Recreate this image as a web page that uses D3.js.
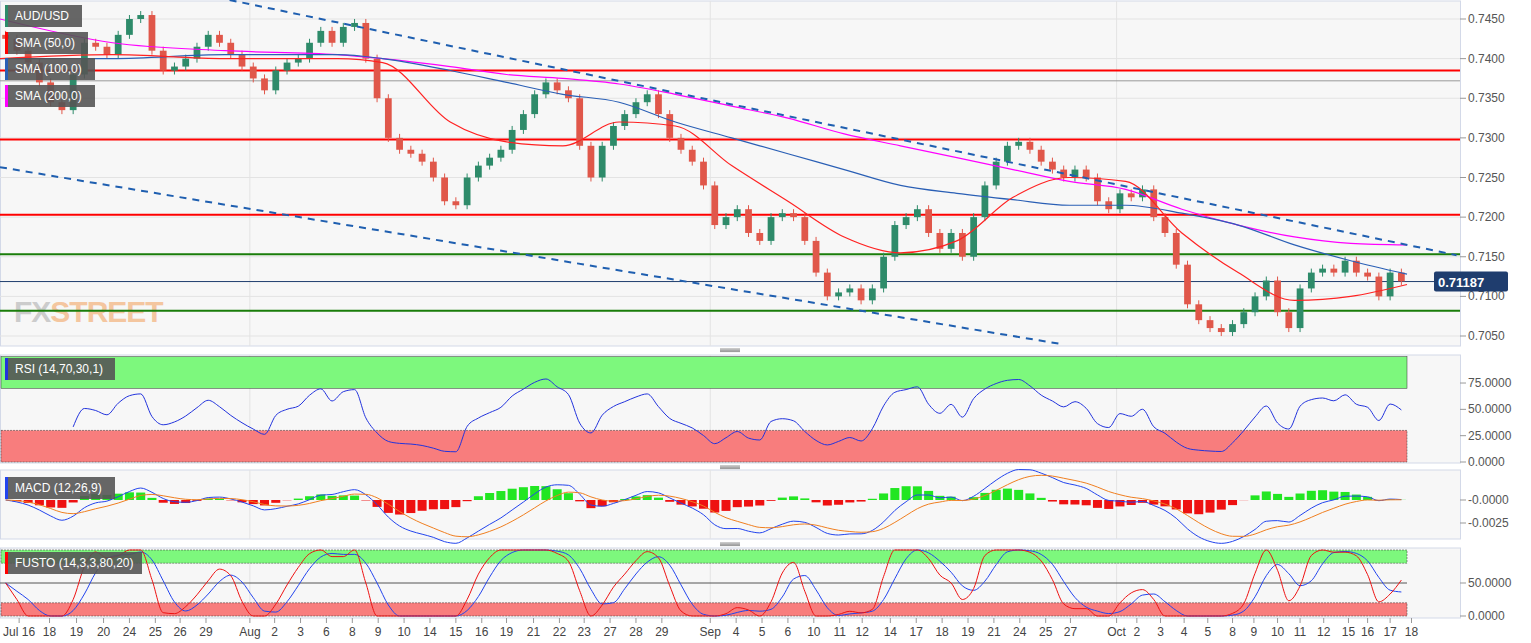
<!DOCTYPE html>
<html><head><meta charset="utf-8">
<script src="https://d3js.org/d3.v7.min.js"></script>
<style>body{margin:0;background:#fff;font-family:Arial,"Liberation Sans",sans-serif}</style>
</head><body><svg id="c" width="1531" height="643"></svg>
<script>
const closes=[0.7425,0.7410,0.7395,0.7370,0.7345,0.7335,0.7380,0.7420,0.7415,0.7405,
0.7430,0.7450,0.7455,0.7410,0.7385,0.7390,0.7400,0.7415,0.7430,0.7420,
0.7405,0.7390,0.7375,0.7360,0.7385,0.7395,0.7400,0.7420,0.7435,0.7420,
0.7440,0.7445,0.7400,0.7350,0.7300,0.7285,0.7280,0.7270,0.7250,0.7220,
0.7215,0.7250,0.7265,0.7275,0.7285,0.7310,0.7330,0.7355,0.7370,0.7360,
0.7350,0.7290,0.7250,0.7290,0.7315,0.7330,0.7345,0.7355,0.7330,0.7300,
0.7285,0.7270,0.7240,0.7190,0.7200,0.7210,0.7180,0.7170,0.7200,0.7205,
0.7200,0.7170,0.7130,0.7100,0.7105,0.7110,0.7095,0.7110,0.7150,0.7190,
0.7200,0.7210,0.7180,0.7160,0.7180,0.7150,0.7200,0.7240,0.7270,0.7290,
0.7295,0.7285,0.7270,0.7260,0.7250,0.7260,0.7250,0.7220,0.7210,0.7230,
0.7225,0.7235,0.7200,0.7180,0.7140,0.7090,0.7070,0.7060,0.7055,0.7065,
0.7080,0.7100,0.7120,0.7080,0.7060,0.7110,0.7130,0.7135,0.7130,0.7145,
0.7130,0.7125,0.7100,0.7130,0.7119];
const firstOpen=0.7430;
const smaIdx=[0,10,20,30,34,40,45,50,55,60,65,70,75,80,85,90,95,100,105,110,115,120,125];
const sma50=[0.7400,0.7405,0.7400,0.7400,0.7395,0.7320,0.7295,0.7290,0.7320,0.7315,0.7265,0.7220,0.7175,0.7155,0.7170,0.7225,0.7250,0.7245,0.7180,0.7130,0.7095,0.7100,0.7115];
const sma100=[0.7400,0.7400,0.7405,0.7405,0.7400,0.7385,0.7370,0.7355,0.7345,0.7320,0.7300,0.7280,0.7260,0.7240,0.7230,0.7222,0.7215,0.7215,0.7205,0.7190,0.7165,0.7145,0.7128];
const sma200=[0.7450,0.7420,0.7410,0.7405,0.7400,0.7390,0.7380,0.7375,0.7368,0.7355,0.7340,0.7325,0.7305,0.7290,0.7275,0.7260,0.7245,0.7235,0.7210,0.7190,0.7175,0.7167,0.7165];
const redLevels=[0.7385,0.7298,0.7203];
const grayLevels=[0.7372];
const greenLevels=[0.7153,0.7082];
const lastPrice=0.71187;
const trendTop=[[20.4,0.7474],[129.4,0.7152]];
const trendLow=[[0,0.7263],[94.2,0.7040]];
const priceTicks=[0.7050,0.7100,0.7150,0.7200,0.7250,0.7300,0.7350,0.7400,0.7450];
const rsiTicks=[0,25,50,75], macdTicks=[0,-0.0025], stoTicks=[0,50];
const dateLabels=["Jul 16","18","19","20","24","25","26","29","Aug","2","3","6","8","9","10","14","15","16","19","21","22","23","27","28","29","Sep","4","5","6","10","11","12","14","17","18","19","21","24","25","27","Oct","2","3","4","5","8","9","10","11","12","15","16","17","18"];
const dateIdx=[1.7,4.4,6.8,9.2,11.5,13.8,16.0,18.3,22.2,24.4,26.7,29.0,31.3,33.6,35.9,38.2,40.5,42.8,45.0,47.4,49.7,51.9,54.2,56.5,58.8,63.1,65.4,67.7,70.0,72.3,74.6,76.6,79.1,81.4,83.7,86.0,88.3,90.6,92.9,95.1,99.2,101.0,103.1,105.2,107.3,109.5,111.4,113.5,115.5,117.6,119.8,121.5,123.5,125.4];

const svg=d3.select("#c");
const W=1460;
const x=d3.scaleLinear([0,125],[0,1407]);
const y=d3.scaleLinear([0.7050,0.7450],[336,19]);
const yR=d3.scaleLinear([0,100],[462,356.7]);
const yM=d3.scaleLinear([-0.0025,0],[523,500]);
const yS=d3.scaleLinear([0,100],[616,550]);
const panels=[[1,346],[355,463],[470,539],[548,618]];
panels.forEach(p=>svg.append("rect").attr("x",0.5).attr("y",p[0]).attr("width",W).attr("height",p[1]-p[0]).attr("fill","#f7f7f7").attr("stroke","#d3d9e8"));
[350,467,544].forEach(v=>{for(let k=0;k<3;k++)svg.append("line").attr("x1",720).attr("x2",740).attr("y1",v-1+k*1.3).attr("y2",v-1+k*1.3).attr("stroke","#666").attr("stroke-width",0.7);});
const g=svg.append("g");
priceTicks.forEach(t=>g.append("line").attr("x1",0).attr("x2",W).attr("y1",y(t)).attr("y2",y(t)).attr("stroke","#e3e3e3"));
[22.2,63.1,99.2].forEach(t=>panels.forEach(p=>g.append("line").attr("x1",x(t)).attr("x2",x(t)).attr("y1",p[0]).attr("y2",p[1]).attr("stroke","#e3e3e3")));
const ax=(sc,ticks,fmt)=>{ticks.forEach(t=>{svg.append("line").attr("x1",W).attr("x2",W+6).attr("y1",sc(t)).attr("y2",sc(t)).attr("stroke","#999");svg.append("text").attr("x",W+8).attr("y",sc(t)+4).attr("font-size",12).attr("fill","#555").text(fmt(t));});};
ax(y,priceTicks,d3.format(".4f"));ax(yR,rsiTicks,d3.format(".4f"));ax(yM,macdTicks,t=>t===0?"-0.0000":t.toFixed(4));ax(yS,stoTicks,d3.format(".4f"));
svg.append("text").attr("x",14).attr("y",322).attr("font-size",30).attr("font-weight","bold").attr("fill","#bbb").attr("opacity",0.7).attr("letter-spacing",-1).html('FX<tspan fill="#f3b27a">STREET</tspan>');
const main=svg.append("g");
const hl=(v,c,w)=>main.append("line").attr("x1",0).attr("x2",W).attr("y1",y(v)).attr("y2",y(v)).attr("stroke",c).attr("stroke-width",w);
grayLevels.forEach(v=>hl(v,"#999",1));
redLevels.forEach(v=>hl(v,"#f00",2));
greenLevels.forEach(v=>hl(v,"#1a7d0a",2));
hl(lastPrice,"#1f3d6e",1);
let prev=firstOpen;
const cw=x(1)-x(0);
closes.forEach((c,i)=>{const o=prev;prev=c;const up=c>=o;const col=up?"#2e8b6a":"#e0574a";
 const cx=x(i+0.5);const hi=Math.max(o,c),lo=Math.min(o,c);
 main.append("line").attr("x1",cx).attr("x2",cx).attr("y1",y(hi)-4).attr("y2",y(lo)+4).attr("stroke",col);
 main.append("rect").attr("x",cx-cw*0.3).attr("width",cw*0.6).attr("y",y(hi)).attr("height",Math.max(1,y(lo)-y(hi))).attr("fill",col);});
const sl=(arr,c)=>main.append("path").datum(arr.map((v,i)=>[smaIdx[i],v])).attr("d",d3.line().x(d=>x(d[0])).y(d=>y(d[1])).curve(d3.curveMonotoneX)).attr("fill","none").attr("stroke",c).attr("stroke-width",1.2);
sl(sma200,"#f0f");sl(sma100,"#2a5fb5");sl(sma50,"#f22");
[trendTop,trendLow].forEach(t=>main.append("path").datum(t).attr("d",d3.line().x(d=>x(d[0])).y(d=>y(d[1]))).attr("stroke","#1f5fb0").attr("stroke-width",2).attr("stroke-dasharray","7,6").attr("fill","none"));
svg.append("rect").attr("x",W-26).attr("y",y(lastPrice)-10).attr("width",74).attr("height",20).attr("rx",2).attr("fill","#1f3d6e");
svg.append("text").attr("x",W-22).attr("y",y(lastPrice)+5).attr("font-size",13).attr("font-weight","bold").attr("fill","#fff").text(lastPrice.toFixed(5));
// indicators
const rsiP=6;const rsi=[];let ag=0,al=0;
for(let i=1;i<closes.length;i++){const d=closes[i]-closes[i-1];const gg=Math.max(d,0),ll=Math.max(-d,0);
 if(i<=rsiP){ag+=gg/rsiP;al+=ll/rsiP;}else{ag=(ag*(rsiP-1)+gg)/rsiP;al=(al*(rsiP-1)+ll)/rsiP;}
 if(i>=rsiP)rsi.push([i,al===0?100:100-100/(1+ag/al)]);}
const ema=(a,n)=>{const k=2/(n+1);let e=a[0];return a.map(v=>e=v*k+e*(1-k));};
const e1=ema(closes,6),e2=ema(closes,13);const macd=closes.map((c,i)=>e1[i]-e2[i]);const sig=ema(macd,5);
const stoK=closes.map((c,i)=>{const w=closes.slice(Math.max(0,i-6),i+1);const mn=d3.min(w),mx=d3.max(w);return mx===mn?50:100*(c-mn)/(mx-mn);});
const stoKs=stoK.map((v,i)=>d3.mean(stoK.slice(Math.max(0,i-1),i+1)));
const stoD=stoKs.map((v,i)=>d3.mean(stoKs.slice(Math.max(0,i-2),i+1)));
svg.append("rect").attr("x",1).attr("width",1406).attr("y",yR(100)).attr("height",yR(70)-yR(100)).attr("fill","#7df87d").attr("stroke","#333").attr("stroke-width",0.5);
svg.append("rect").attr("x",1).attr("width",1406).attr("y",yR(30)).attr("height",yR(0)-yR(30)).attr("fill","#f87d7d").attr("stroke","#333").attr("stroke-width",0.5).attr("stroke-dasharray","2,1");
const ln=(data,sc,c)=>svg.append("path").datum(data).attr("d",d3.line().x(d=>x(d[0]+0.5)).y(d=>sc(d[1])).curve(d3.curveMonotoneX)).attr("fill","none").attr("stroke",c).attr("stroke-width",1);
ln(rsi,yR,"#2233dd");
macd.forEach((m,i)=>{const h=m-sig[i];svg.append("rect").attr("x",x(i+0.1)).attr("width",cw*0.8).attr("y",Math.min(yM(0),yM(h))).attr("height",Math.abs(yM(h)-yM(0))).attr("fill",h>=0?"#22e622":"#ee1111");});
ln(macd.map((v,i)=>[i,v]),yM,"#2244ee");ln(sig.map((v,i)=>[i,v]),yM,"#f07f20");
svg.append("rect").attr("x",1).attr("width",1406).attr("y",yS(100)).attr("height",yS(80)-yS(100)).attr("fill","#7df87d").attr("stroke","#333").attr("stroke-width",0.5).attr("stroke-dasharray","2,1");
svg.append("rect").attr("x",1).attr("width",1406).attr("y",yS(20)).attr("height",yS(0)-yS(20)).attr("fill","#f87d7d").attr("stroke","#333").attr("stroke-width",0.5).attr("stroke-dasharray","2,1");
svg.append("line").attr("x1",0).attr("x2",1407).attr("y1",yS(50)).attr("y2",yS(50)).attr("stroke","#555");
ln(stoD.map((v,i)=>[i,v]),yS,"#2244ee");ln(stoKs.map((v,i)=>[i,v]),yS,"#ee1111");
const leg=(yy,w,t,c)=>{svg.append("rect").attr("x",5).attr("y",yy).attr("width",w).attr("height",22).attr("fill","#555").attr("opacity",0.9);
 svg.append("rect").attr("x",5).attr("y",yy).attr("width",3).attr("height",22).attr("fill",c);
 svg.append("text").attr("x",15).attr("y",yy+15).attr("font-size",12).attr("fill","#fff").text(t);};
leg(5,77,"AUD/USD","#2e8b6a");leg(32,83,"SMA (50,0)","#f00");leg(58,90,"SMA (100,0)","#2a5fb5");leg(85,90,"SMA (200,0)","#f0f");
leg(358,110,"RSI (14,70,30,1)","#2233dd");leg(477,110,"MACD (12,26,9)","#2244ee");leg(552,137,"FUSTO (14,3,3,80,20)","#f00");
dateLabels.forEach((l,i)=>{svg.append("line").attr("x1",x(dateIdx[i])).attr("x2",x(dateIdx[i])).attr("y1",618).attr("y2",623).attr("stroke","#999");
 svg.append("text").attr("x",x(dateIdx[i])).attr("y",636).attr("text-anchor","middle").attr("font-size",12).attr("fill","#444").text(l);});
</script></body></html>
